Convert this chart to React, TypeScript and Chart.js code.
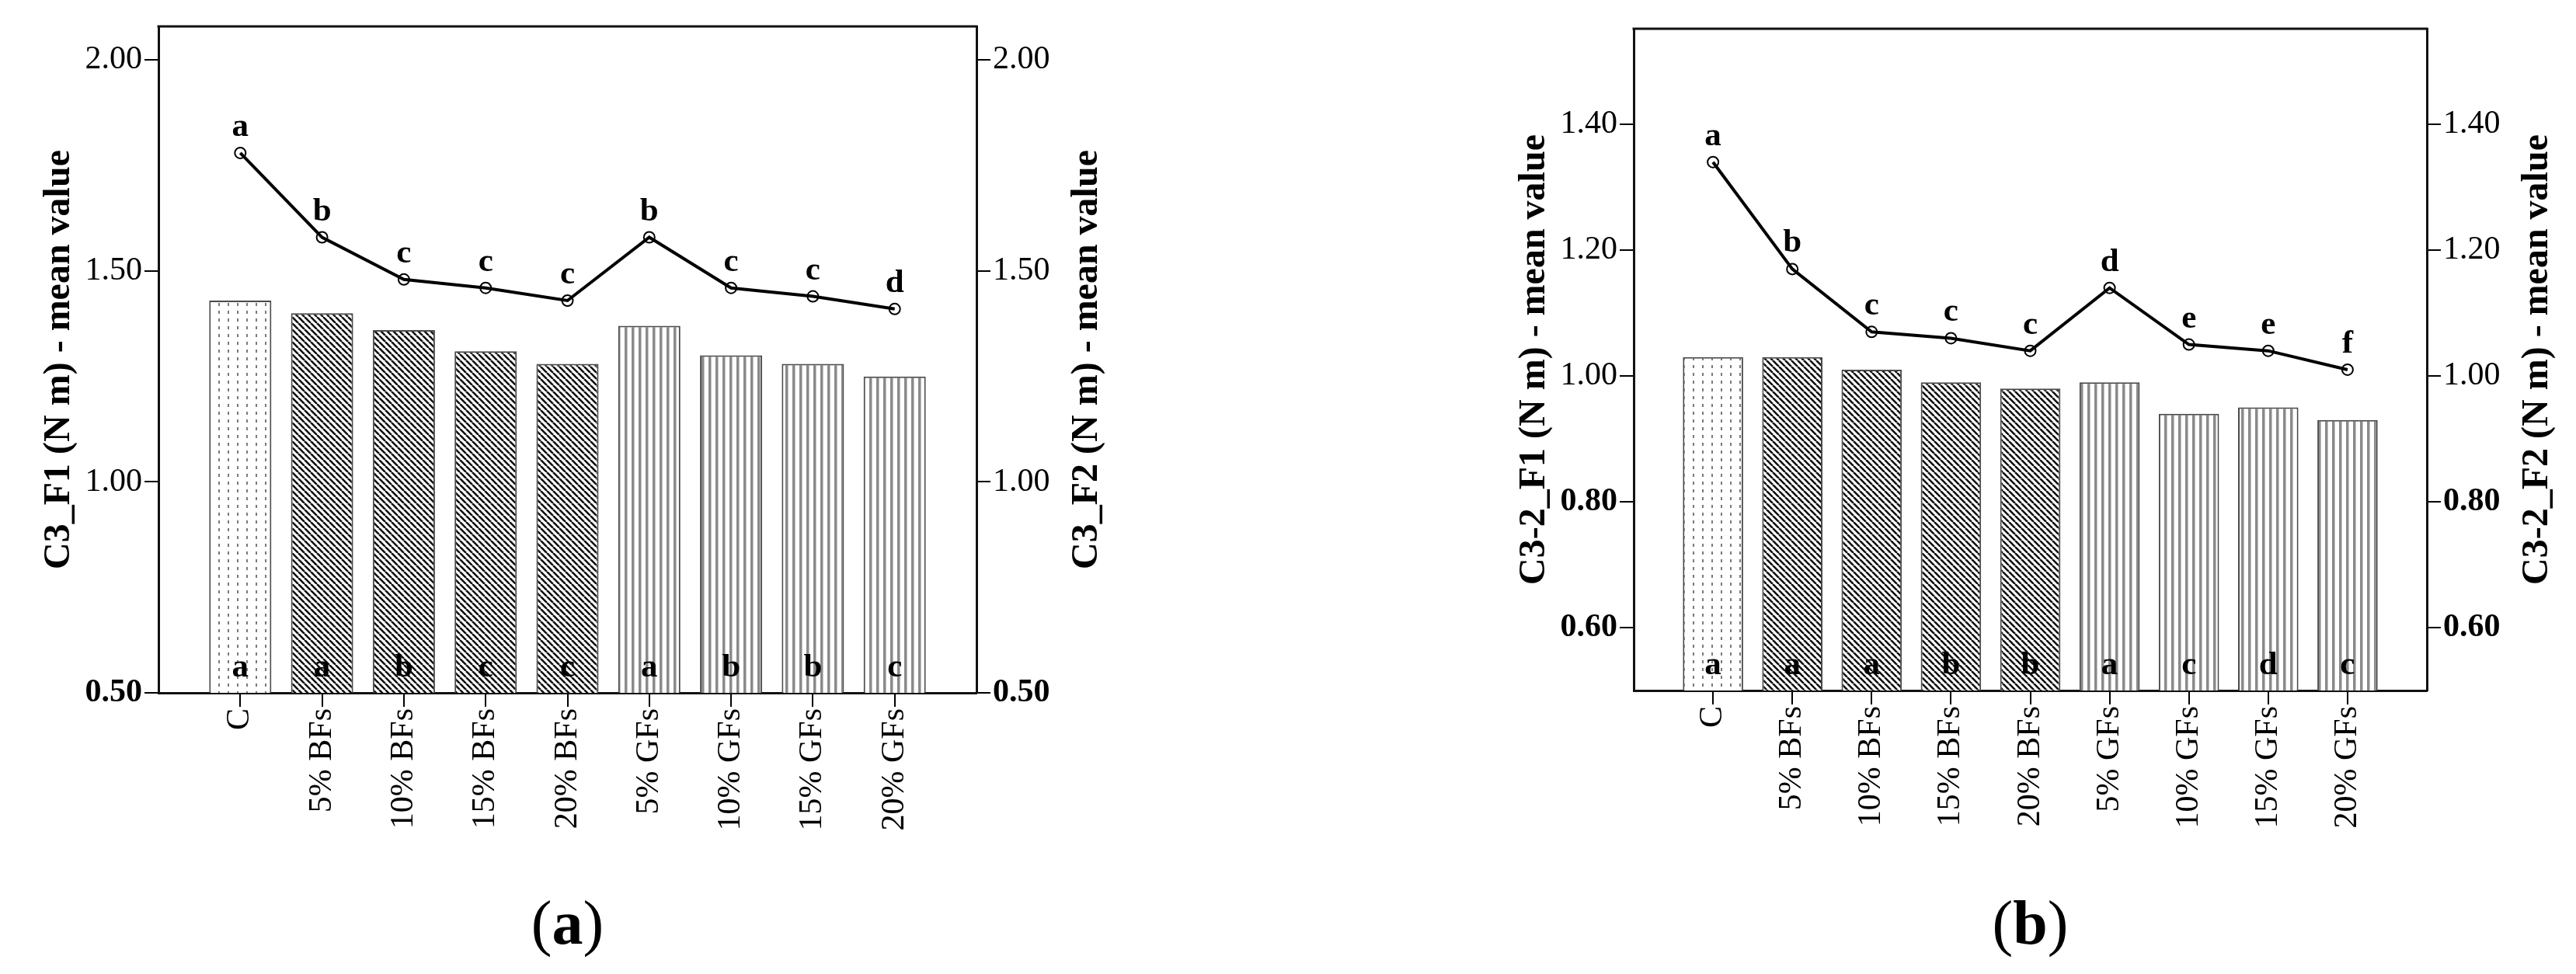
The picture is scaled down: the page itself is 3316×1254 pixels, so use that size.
import React, { useEffect, useRef } from "react";
import Chart from "chart.js/auto";

// categories shared by both panels
const CATEGORIES = ["C", "5% BFs", "10% BFs", "15% BFs", "20% BFs", "5% GFs", "10% GFs", "15% GFs", "20% GFs"];

// panel (a)
const A_F1 = [1.43, 1.4, 1.36, 1.31, 1.28, 1.37, 1.3, 1.28, 1.25];
const A_F2 = [1.78, 1.58, 1.48, 1.46, 1.43, 1.58, 1.46, 1.44, 1.41];
const A_F1_LETTERS = ["a", "a", "b", "c", "c", "a", "b", "b", "c"];
const A_F2_LETTERS = ["a", "b", "c", "c", "c", "b", "c", "c", "d"];
const A_TICKS = [0.5, 1.0, 1.5, 2.0];
const A_BOLD_TICKS = [0.5];

// panel (b)
const B_F1 = [1.03, 1.03, 1.01, 0.99, 0.98, 0.99, 0.94, 0.95, 0.93];
const B_F2 = [1.34, 1.17, 1.07, 1.06, 1.04, 1.14, 1.05, 1.04, 1.01];
const B_F1_LETTERS = ["a", "a", "a", "b", "b", "a", "c", "d", "c"];
const B_F2_LETTERS = ["a", "b", "c", "c", "c", "d", "e", "e", "f"];
const B_TICKS = [0.6, 0.8, 1.0, 1.2, 1.4];
const B_BOLD_TICKS = [0.6, 0.8];

const SERIF = "'Liberation Serif', 'Times New Roman', serif";
const W = 1658;
const H = 1110;

function makePattern(kind: string) {
  const c = document.createElement("canvas");
  const g = c.getContext("2d")!;
  if (kind === "dots") {
    c.width = 12;
    c.height = 10;
    g.fillStyle = "#fff";
    g.fillRect(0, 0, 12, 10);
    g.fillStyle = "#7a7a7a";
    g.fillRect(5, 0, 2, 4);
  } else if (kind === "diag") {
    c.width = 8;
    c.height = 8;
    g.fillStyle = "#fff";
    g.fillRect(0, 0, 8, 8);
    g.strokeStyle = "#111";
    g.lineWidth = 2.6;
    g.beginPath();
    for (const k of [-1, 0, 1]) {
      g.moveTo(k * 8, 0);
      g.lineTo(k * 8 + 8, 8);
    }
    g.stroke();
  } else {
    c.width = 9;
    c.height = 9;
    g.fillStyle = "#fff";
    g.fillRect(0, 0, 9, 9);
    g.fillStyle = "#8a8a8a";
    g.fillRect(3, 0, 3.5, 9);
  }
  return g.createPattern(c, "repeat")!;
}

const patternKind = (label: string) => (label === "C" ? "dots" : label.includes("BF") ? "diag" : "vert");

const panelDecor = {
  id: "panelDecor",
  afterDatasetsDraw(chart: any, _args: any, opts: any) {
    const { ctx, chartArea } = chart;
    ctx.save();
    // top frame line
    ctx.strokeStyle = "#111";
    ctx.lineWidth = 3;
    ctx.beginPath();
    ctx.moveTo(chartArea.left - 1.5, chartArea.top);
    ctx.lineTo(chartArea.right + 1.5, chartArea.top);
    ctx.stroke();

    // significance letters
    ctx.fillStyle = "#000";
    ctx.font = `bold 43px ${SERIF}`;
    ctx.textAlign = "center";
    ctx.textBaseline = "alphabetic";
    chart.getDatasetMeta(0).data.forEach((el: any, i: number) => {
      ctx.fillText(opts.barLetters[i], el.x, chartArea.bottom - 21);
    });
    chart.getDatasetMeta(1).data.forEach((el: any, i: number) => {
      ctx.fillText(opts.lineLetters[i], el.x, el.y - 22);
    });

    // axis titles, both reading bottom to top
    ctx.font = `bold 48px ${SERIF}`;
    const cy = (chartArea.top + chartArea.bottom) / 2;
    const titles: [number, string][] = [
      [chartArea.left - 115, opts.leftTitle],
      [chartArea.right + 155, opts.rightTitle],
    ];
    titles.forEach(([x, t]) => {
      ctx.save();
      ctx.translate(x, cy);
      ctx.rotate(-Math.PI / 2);
      ctx.fillText(t, 0, 0);
      ctx.restore();
    });
    ctx.restore();
  },
};

interface PanelProps {
  offsetX: number;
  plot: { left: number; right: number; top: number; bottom: number };
  yMin: number;
  yMax: number;
  ticks: number[];
  boldTicks: number[];
  f1: number[];
  f2: number[];
  f1Letters: string[];
  f2Letters: string[];
  leftTitle: string;
  rightTitle: string;
  caption: string;
}

function Panel(props: PanelProps) {
  const canvasRef = useRef<HTMLCanvasElement>(null);

  useEffect(() => {
    const { plot, yMin, yMax, ticks, boldTicks } = props;
    const fills = CATEGORIES.map((c) => makePattern(patternKind(c)));

    const yAxis = (position: "left" | "right") => ({
      type: "linear" as const,
      position,
      min: yMin,
      max: yMax,
      afterBuildTicks: (s: any) => {
        s.ticks = ticks.map((v) => ({ value: v }));
      },
      afterFit: (s: any) => {
        s.width = 180;
      },
      ticks: {
        callback: (v: any) => Number(v).toFixed(2),
        color: "#000",
        padding: 3,
        font: (c: any) => ({
          family: SERIF,
          size: 42,
          weight: c.tick && boldTicks.some((b) => Math.abs(b - c.tick.value) < 1e-6) ? "bold" : "normal",
        }),
      },
      grid: { drawOnChartArea: false, tickLength: 18, lineWidth: 2, color: "#000" },
      border: { color: "#111", width: 3 },
    });

    const chart = new Chart(canvasRef.current!, {
      type: "bar",
      data: {
        datasets: [
          {
            type: "bar",
            data: props.f1.map((v, i) => ({ x: i, y: v })),
            yAxisID: "y",
            backgroundColor: fills,
            borderColor: "#4a4a4a",
            borderWidth: 2,
            barPercentage: 0.76,
            categoryPercentage: 1,
            order: 2,
          },
          {
            type: "line",
            data: props.f2.map((v, i) => ({ x: i, y: v })),
            yAxisID: "y1",
            borderColor: "#000",
            borderWidth: 4,
            pointRadius: 7,
            pointBorderWidth: 2,
            pointBorderColor: "#000",
            pointBackgroundColor: "rgba(0,0,0,0)",
            tension: 0,
            order: 1,
          },
        ] as any,
      },
      options: {
        responsive: false,
        animation: false,
        events: [],
        layout: {
          padding: { top: plot.top, left: plot.left - 180, right: W - plot.right - 180, bottom: 0 },
        },
        scales: {
          x: {
            type: "linear",
            min: -1,
            max: CATEGORIES.length,
            offset: false,
            afterBuildTicks: (s: any) => {
              s.ticks = CATEGORIES.map((_, i) => ({ value: i }));
            },
            afterFit: (s: any) => {
              s.height = H - plot.bottom;
            },
            ticks: {
              callback: (v: any) => CATEGORIES[v],
              autoSkip: false,
              minRotation: 90,
              maxRotation: 90,
              color: "#000",
              padding: 2,
              font: { family: SERIF, size: 42 },
            },
            grid: { offset: false, drawOnChartArea: false, tickLength: 18, lineWidth: 2, color: "#000" },
            border: { color: "#111", width: 3 },
          },
          y: yAxis("left"),
          y1: yAxis("right"),
        } as any,
        plugins: {
          legend: { display: false },
          tooltip: { enabled: false },
          panelDecor: {
            barLetters: props.f1Letters,
            lineLetters: props.f2Letters,
            leftTitle: props.leftTitle,
            rightTitle: props.rightTitle,
          },
        } as any,
      },
      plugins: [panelDecor],
    });

    return () => {
      chart.destroy();
    };
  }, [props]);

  const captionCenter = (props.plot.left + props.plot.right) / 2;

  return (
    <div style={{ position: "absolute", left: props.offsetX, top: 0, width: W, height: 1254 }}>
      <canvas ref={canvasRef} width={W} height={H} style={{ position: "absolute", left: 0, top: 0, width: W, height: H }} />
      <div
        style={{
          position: "absolute",
          left: captionCenter - 100,
          width: 200,
          top: 1148,
          textAlign: "center",
          fontFamily: SERIF,
          fontSize: 80,
          lineHeight: "80px",
          color: "#000",
        }}
      >
        (<b>{props.caption}</b>)
      </div>
    </div>
  );
}

const PANEL_A: PanelProps = {
  offsetX: 0,
  plot: { left: 204, right: 1257, top: 34, bottom: 892 },
  yMin: 0.5,
  yMax: 2.08,
  ticks: A_TICKS,
  boldTicks: A_BOLD_TICKS,
  f1: A_F1,
  f2: A_F2,
  f1Letters: A_F1_LETTERS,
  f2Letters: A_F2_LETTERS,
  leftTitle: "C3_F1 (N m) - mean value",
  rightTitle: "C3_F2 (N m) - mean value",
  caption: "a",
};

const PANEL_B: PanelProps = {
  offsetX: 1658,
  plot: { left: 445, right: 1466, top: 37, bottom: 889 },
  yMin: 0.5,
  yMax: 1.552,
  ticks: B_TICKS,
  boldTicks: B_BOLD_TICKS,
  f1: B_F1,
  f2: B_F2,
  f1Letters: B_F1_LETTERS,
  f2Letters: B_F2_LETTERS,
  leftTitle: "C3-2_F1 (N m) - mean value",
  rightTitle: "C3-2_F2 (N m) - mean value",
  caption: "b",
};

export default function App() {
  return (
    <div style={{ position: "absolute", left: 0, top: 0, width: 3316, height: 1254, background: "#fff", overflow: "hidden" }}>
      <Panel {...PANEL_A} />
      <Panel {...PANEL_B} />
    </div>
  );
}
